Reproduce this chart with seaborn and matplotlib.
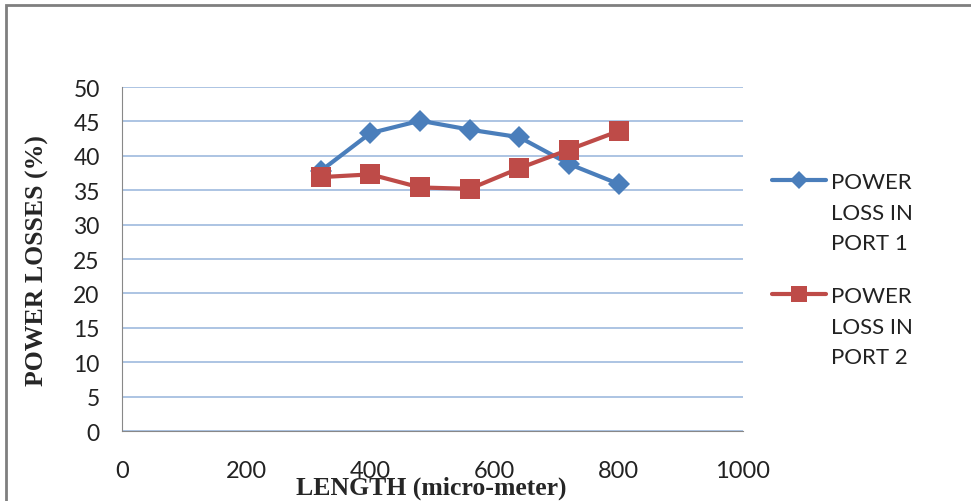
import numpy as np
import pandas as pd
import seaborn as sns
import matplotlib.pyplot as plt
from matplotlib.patches import Rectangle

length = [320, 400, 480, 560, 640, 720, 800]
port1 = [37.8, 43.3, 45.1, 43.8, 42.7, 38.8, 35.9]
port2 = [36.9, 37.3, 35.4, 35.2, 38.2, 40.9, 43.6]
labels = ["POWER\nLOSS IN\nPORT 1", "POWER\nLOSS IN\nPORT 2"]

df = pd.DataFrame({
    "length": length * 2,
    "loss": port1 + port2,
    "series": [labels[0]] * len(length) + [labels[1]] * len(length),
})

sns.set_style("white")
plt.rcParams["font.family"] = ["Lato", "DejaVu Sans"]

fig = plt.figure(figsize=(9.71, 5.02), dpi=100)
ax = fig.add_axes([0.1256, 0.1394, 0.6396, 0.6853])

pal = {labels[0]: "#4a7ebb", labels[1]: "#be4b48"}
sns.lineplot(data=df, x="length", y="loss", hue="series", style="series",
             markers={labels[0]: "D", labels[1]: "s"}, dashes=False,
             palette=pal, linewidth=3, markersize=12, markeredgewidth=0,
             ax=ax)
# diamonds a bit smaller than squares
ax.lines[0].set_markersize(11)
ax.lines[1].set_markersize(14)

ax.set_xlim(0, 1000)
ax.set_ylim(0, 50)
ax.set_xticks(np.arange(0, 1001, 200))
ax.set_yticks(np.arange(0, 51, 5))
ax.yaxis.grid(True, color="#a6bfe0", linewidth=1.3)
ax.xaxis.grid(False)
for s in ["top", "right"]:
    ax.spines[s].set_visible(False)
ax.spines["left"].set_color("#888888")
ax.spines["bottom"].set_color("#888888")
ax.tick_params(axis="x", length=0, pad=21, labelsize=17, labelcolor="#222222")
ax.tick_params(axis="y", length=0, pad=16, labelsize=16.5, labelcolor="#222222")
ax.set_xlabel("")
ax.set_ylabel("")

handles, lbls = ax.get_legend_handles_labels()
leg = ax.legend(handles, lbls, loc="upper left", bbox_to_anchor=(1.015, 0.81),
                frameon=False, fontsize=16, handlelength=2.4, labelspacing=1.5,
                handletextpad=0.25)
for h in leg.legend_handles:
    h.set_linewidth(3)
leg.legend_handles[0].set_markersize(9)
leg.legend_handles[1].set_markersize(11)
for t in leg.get_texts():
    t.set_linespacing(1.65)
    t.set_color("#222222")
# put the handle next to the first line of each label
for col in leg._legend_handle_box.get_children():
    for row in col.get_children():
        row.align = "top"

fig.text(0.444, 0.027, "LENGTH (micro-meter)", family="Liberation Serif",
         fontweight="bold", fontsize=18.5, ha="center", va="center")
fig.text(0.039, 0.48, "POWER LOSSES (%)", family="Liberation Serif",
         fontweight="bold", fontsize=18.5, ha="center", va="center", rotation=90)

fig.patches.append(Rectangle((6 / 971, -0.1), 1.1, 1 - 6 / 502 + 0.1,
                             transform=fig.transFigure, fill=False,
                             edgecolor="#7f7f7f", linewidth=2))

fig.savefig("out.png", dpi=100)
